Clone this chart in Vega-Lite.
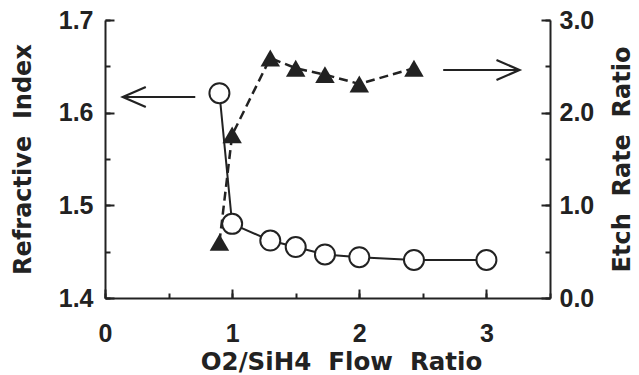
{
  "$schema": "https://vega.github.io/schema/vega-lite/v6.json",
  "autosize": {"type": "none"},
  "width": 445,
  "height": 278,
  "padding": {"left": 105, "top": 20, "right": 89, "bottom": 77},
  "background": "white",
  "config": {
    "view": {"stroke": null},
    "axis": {
      "grid": false,
      "domainColor": "#222",
      "domainWidth": 2,
      "tickColor": "#222",
      "tickWidth": 2,
      "labelFont": "Liberation Sans",
      "labelFontWeight": "bold",
      "labelFontSize": 25,
      "labelColor": "#222",
      "titleFont": "DejaVu Sans",
      "titleFontWeight": "bold",
      "titleFontSize": 24,
      "titleColor": "#222"
    }
  },
  "datasets": {
    "refractive": [
      {"ratio": 0.9, "n": 1.621},
      {"ratio": 1.0, "n": 1.480},
      {"ratio": 1.3, "n": 1.462},
      {"ratio": 1.5, "n": 1.455},
      {"ratio": 1.73, "n": 1.447},
      {"ratio": 2.0, "n": 1.444},
      {"ratio": 2.43, "n": 1.441},
      {"ratio": 3.0, "n": 1.441}
    ],
    "etch": [
      {"ratio": 0.9, "etch": 0.6},
      {"ratio": 1.0, "etch": 1.76},
      {"ratio": 1.3, "etch": 2.59},
      {"ratio": 1.5, "etch": 2.48},
      {"ratio": 1.73, "etch": 2.41},
      {"ratio": 2.0, "etch": 2.31},
      {"ratio": 2.43, "etch": 2.48}
    ],
    "leftArrow": [{"from": 0.71, "to": 0.14, "n": 1.617}],
    "rightArrow": [{"from": 2.66, "to": 3.26, "etch": 2.46}]
  },
  "layer": [
    {
      "encoding": {
        "x": {
          "field": "ratio",
          "type": "quantitative",
          "scale": {"domain": [0, 3.5], "nice": false, "zero": false},
          "axis": {
            "orient": "bottom",
            "title": "O2/SiH4\u00a0\u00a0Flow\u00a0\u00a0Ratio",
            "values": [0, 0.5, 1, 1.5, 2, 2.5, 3, 3.5],
            "labelExpr": "datum.value % 1 === 0 && datum.value < 3.5 ? format(datum.value, 'd') : ''",
            "tickSize": -5,
            "labelPadding": 28,
            "labelFlush": false,
            "labelOverlap": false,
            "titleFontSize": 24.5,
            "titleX": 236,
            "titleY": 64,
            "titleBaseline": "middle",
            "titleAnchor": null
          }
        }
      },
      "layer": [
        {
          "data": {"name": "refractive"},
          "mark": {"type": "line", "color": "#222", "strokeWidth": 2},
          "encoding": {
            "y": {
              "field": "n",
              "type": "quantitative",
              "scale": {"domain": [1.4, 1.7], "nice": false, "zero": false},
              "axis": {
                "orient": "left",
                "title": "Refractive\u00a0\u00a0Index",
                "values": [1.4, 1.45, 1.5, 1.55, 1.6, 1.65, 1.7],
                "labelExpr": "abs(datum.value * 10 - round(datum.value * 10)) < 0.001 ? format(datum.value, '.1f') : ''",
                "tickSize": -5,
                "labelPadding": 17,
                "labelFlush": false,
                "labelOverlap": false,
                "titleX": -82,
                "titleY": 139,
                "titleAngle": 270,
                "titleBaseline": "middle",
                "titleAnchor": null
              }
            }
          }
        },
        {
          "data": {"name": "refractive"},
          "mark": {"type": "point", "shape": "circle", "filled": true, "fill": "white", "stroke": "#222", "strokeWidth": 2, "size": 400, "opacity": 1},
          "encoding": {
            "y": {
              "field": "n",
              "type": "quantitative",
              "axis": {
                "orient": "left",
                "title": null,
                "values": [1.4, 1.5, 1.6, 1.7],
                "labels": false,
                "domain": false,
                "tickSize": -9
              }
            }
          }
        },
        {
          "data": {"name": "leftArrow"},
          "mark": {"type": "rule", "color": "#222", "strokeWidth": 2},
          "encoding": {
            "x": {"field": "from", "type": "quantitative"},
            "x2": {"field": "to"},
            "y": {"field": "n", "type": "quantitative", "axis": null}
          }
        },
        {
          "data": {"name": "leftArrow"},
          "mark": {"type": "point", "shape": "M2.3,-1L0,0L2.3,1", "filled": false, "stroke": "#222", "strokeWidth": 2.2, "size": 400, "opacity": 1},
          "encoding": {
            "x": {"field": "to", "type": "quantitative"},
            "y": {"field": "n", "type": "quantitative", "axis": null}
          }
        }
      ],
      "resolve": {"axis": {"y": "independent"}}
    },
    {
      "encoding": {
        "x": {
          "field": "ratio",
          "type": "quantitative",
          "axis": {
            "orient": "bottom",
            "title": null,
            "values": [0, 1, 2, 3],
            "labels": false,
            "domain": false,
            "tickSize": -9
          }
        }
      },
      "layer": [
        {
          "data": {"name": "etch"},
          "mark": {"type": "line", "color": "#222", "strokeWidth": 2.5, "strokeDash": [9, 5]},
          "encoding": {
            "y": {
              "field": "etch",
              "type": "quantitative",
              "scale": {"domain": [0, 3], "nice": false, "zero": false},
              "axis": {
                "orient": "right",
                "title": "Etch\u00a0\u00a0Rate\u00a0\u00a0Ratio",
                "values": [0, 0.5, 1, 1.5, 2, 2.5, 3],
                "labelExpr": "datum.value % 1 === 0 ? format(datum.value, '.1f') : ''",
                "tickSize": -5,
                "labelPadding": 14,
                "labelFlush": false,
                "labelOverlap": false,
                "titleX": 72,
                "titleY": 139,
                "titleAngle": 270,
                "titleBaseline": "middle",
                "titleAnchor": null
              }
            }
          }
        },
        {
          "data": {"name": "etch"},
          "mark": {"type": "point", "shape": "triangle-up", "filled": true, "color": "#222", "size": 380, "opacity": 1},
          "encoding": {
            "y": {
              "field": "etch",
              "type": "quantitative",
              "axis": {
                "orient": "right",
                "title": null,
                "values": [0, 1, 2, 3],
                "labels": false,
                "domain": false,
                "tickSize": -9
              }
            }
          }
        },
        {
          "data": {"name": "rightArrow"},
          "mark": {"type": "rule", "color": "#222", "strokeWidth": 2},
          "encoding": {
            "x": {"field": "from", "type": "quantitative"},
            "x2": {"field": "to"},
            "y": {"field": "etch", "type": "quantitative", "axis": null}
          }
        },
        {
          "data": {"name": "rightArrow"},
          "mark": {"type": "point", "shape": "M-2.3,-1L0,0L-2.3,1", "filled": false, "stroke": "#222", "strokeWidth": 2.2, "size": 400, "opacity": 1},
          "encoding": {
            "x": {"field": "to", "type": "quantitative"},
            "y": {"field": "etch", "type": "quantitative", "axis": null}
          }
        }
      ],
      "resolve": {"axis": {"y": "independent"}}
    }
  ],
  "resolve": {"scale": {"y": "independent"}, "axis": {"y": "independent", "x": "independent"}}
}
